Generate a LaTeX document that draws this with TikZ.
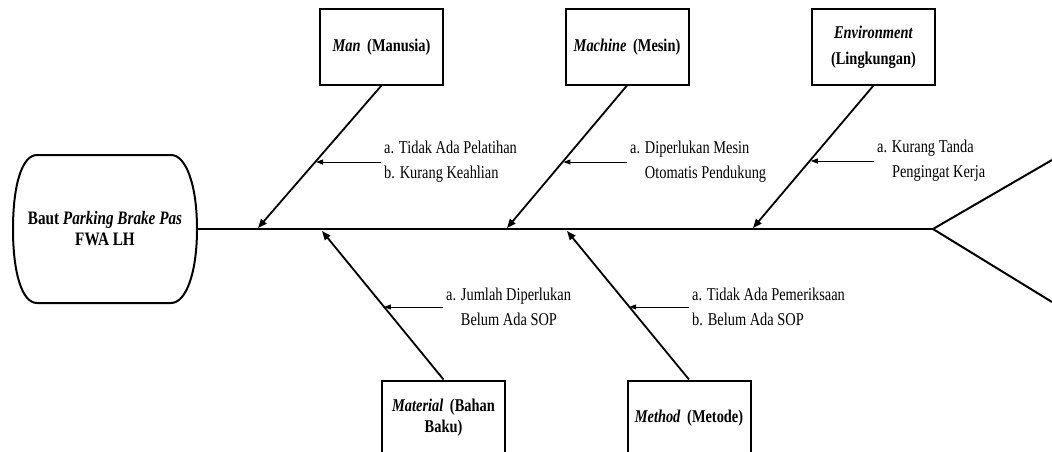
\documentclass[tikz,border=0pt]{standalone}
\usepackage{fontspec}
\setmainfont{Liberation Serif}[FakeStretch=0.8]
\usetikzlibrary{arrows.meta,calc}

\begin{document}
\begin{tikzpicture}[x=1pt,y=-1pt,
    cause/.style={draw, line width=2pt, minimum width=123pt, minimum height=75pt,
      inner sep=2pt, align=center, font=\fontsize{18}{26}\selectfont\bfseries},
    bone/.style={line width=1.8pt, -{Triangle[length=9pt,width=7pt]}},
    note/.style={anchor=west, inner sep=0pt, align=left, font=\fontsize{18}{25}\selectfont},
    hint/.style={line width=1pt, -{Triangle[length=7pt,width=5pt]}}]
    \useasboundingbox (0,0) rectangle (1052,452);
    \clip (0,0) rectangle (1052,452);

    % Kepala (akibat)
    \node[minimum width=184pt, minimum height=148pt, align=center,
      font=\fontsize{19}{21}\selectfont\bfseries] (head) at (105,229)
      {Baut \textit{Parking Brake Pas}\\FWA LH};
    \draw[line width=2pt] (37,155) -- (171,155)
      .. controls (186,155) and (197,185) .. (197,229)
      .. controls (197,273) and (186,303) .. (171,303) -- (37,303)
      .. controls (22,303) and (13,273) .. (13,229)
      .. controls (13,185) and (22,155) .. (37,155) -- cycle;

    % Tulang utama
    \coordinate (tail) at (933,229);
    \coordinate (finTop) at (1052,160);
    \coordinate (finBot) at (1052,302);
    \draw[line width=2pt] (head.east) -- (tail);
    \draw[line width=2pt] (finTop) -- (tail) -- (finBot);

    % Kategori penyebab
    \node[cause] (man) at (381.5,47) {\textit{Man} \,(Manusia)};
    \node[cause] (machine) at (627,47) {\textit{Machine} \,(Mesin)};
    \node[cause] (env) at (873.5,47) {\textit{Environment}\\(Lingkungan)};
    \node[cause, font=\fontsize{18}{21}\selectfont\bfseries] (material) at (443.5,418)
      {\textit{Material} \,(Bahan\\Baku)};
    \node[cause] (method) at (689,418) {\textit{Method} \,(Metode)};

    % Tulang penyebab
    \coordinate (manTip) at (258,228);
    \coordinate (machineTip) at (507,228);
    \coordinate (envTip) at (753,228);
    \coordinate (materialTip) at (322,231);
    \coordinate (methodTip) at (567,231);
    \draw[bone] (man.south) -- (manTip);
    \draw[bone] (machine.south) -- (machineTip);
    \draw[bone] (env.south) -- (envTip);
    \draw[bone] (material.north) -- (materialTip);
    \draw[bone] (method.north) -- (methodTip);

    % Keterangan
    \node[note] (manNote) at (384,162) {a. Tidak Ada Pelatihan\\b. Kurang Keahlian};
    \node[note] (machineNote) at (630,162) {a. Diperlukan Mesin\\\phantom{a. }Otomatis Pendukung};
    \node[note] (envNote) at (877,161) {a. Kurang Tanda\\\phantom{a. }Pengingat Kerja};
    \node[note] (materialNote) at (446,307) {a. Jumlah Diperlukan\\\phantom{a. }Belum Ada SOP};
    \node[note] (methodNote) at (692,307) {a. Tidak Ada Pemeriksaan\\b. Belum Ada SOP};

    % Panah keterangan
    \coordinate (manHit) at ($(man.south)!0.53!(manTip)$);
    \coordinate (machineHit) at ($(machine.south)!0.53!(machineTip)$);
    \coordinate (envHit) at ($(env.south)!0.52!(envTip)$);
    \coordinate (materialHit) at ($(material.north)!0.49!(materialTip)$);
    \coordinate (methodHit) at ($(method.north)!0.49!(methodTip)$);
    \draw[hint] ([xshift=-3pt]manNote.west) -- (manNote.west -| manHit);
    \draw[hint] ([xshift=-3pt]machineNote.west) -- (machineNote.west -| machineHit);
    \draw[hint] ([xshift=-3pt]envNote.west) -- (envNote.west -| envHit);
    \draw[hint] ([xshift=-3pt]materialNote.west) -- (materialNote.west -| materialHit);
    \draw[hint] ([xshift=-3pt]methodNote.west) -- (methodNote.west -| methodHit);

\end{tikzpicture}
\end{document}
